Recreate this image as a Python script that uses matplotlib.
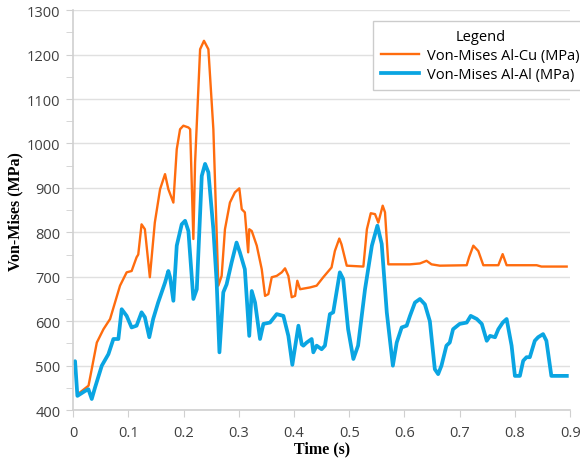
import numpy as np
import matplotlib
matplotlib.use('Agg')
import matplotlib.pyplot as plt
from matplotlib.ticker import MultipleLocator

# Von-Mises Al-Cu (MPa)
t_cu = [0.0127, 0.028, 0.043, 0.055, 0.067, 0.085, 0.097, 0.106, 0.115, 0.118,
        0.124, 0.130, 0.139, 0.148, 0.1575, 0.1665, 0.1725, 0.1816, 0.1877, 0.1937,
        0.1997, 0.2088, 0.212, 0.2178, 0.2209, 0.230, 0.237, 0.245, 0.254, 0.263,
        0.269, 0.275, 0.284, 0.293, 0.301, 0.3054, 0.311, 0.317, 0.319, 0.3235,
        0.3326, 0.3416, 0.3476, 0.3536, 0.3597, 0.3687, 0.3778, 0.3838, 0.3898, 0.3959,
        0.402, 0.406, 0.411, 0.429, 0.441, 0.453, 0.468, 0.474, 0.482, 0.486,
        0.4955, 0.5256, 0.532, 0.539, 0.5467, 0.5527, 0.5606, 0.5648, 0.5708, 0.610,
        0.628, 0.640, 0.649, 0.664, 0.7127, 0.717, 0.7247, 0.7337, 0.7428, 0.770,
        0.7778, 0.785, 0.8394, 0.848, 0.8937]
v_cu = [440, 455, 552, 582, 605, 680, 710, 713, 744, 750,
        818, 807, 699, 822, 897, 931, 897, 867, 987, 1032,
        1040, 1036, 1032, 785, 957, 1212, 1231, 1212, 1032, 680,
        702, 807, 867, 890, 899, 852, 845, 755, 807, 803,
        770, 717, 657, 661, 699, 702, 710, 719, 702, 654,
        657, 691, 672, 676, 680, 699, 721, 758, 786, 773,
        725, 723, 807, 843, 841, 822, 860, 845, 728, 728,
        730, 736, 728, 725, 726, 744, 770, 758, 726, 726,
        751, 726, 726, 723, 723]

# Von-Mises Al-Al (MPa)
t_al = [0.0006, 0.0036, 0.0078, 0.0217, 0.0277, 0.0338, 0.0398, 0.052, 0.064, 0.073,
        0.082, 0.088, 0.097, 0.106, 0.115, 0.124, 0.130, 0.138, 0.145, 0.154,
        0.1665, 0.1725, 0.1756, 0.1816, 0.1877, 0.1967, 0.2028, 0.2088, 0.2178, 0.224,
        0.233, 0.239, 0.245, 0.254, 0.260, 0.265, 0.272, 0.278, 0.287, 0.296,
        0.302, 0.311, 0.319, 0.3235, 0.3295, 0.3385, 0.3446, 0.3566, 0.3687, 0.3808,
        0.3898, 0.397, 0.408, 0.414, 0.417, 0.423, 0.432, 0.435, 0.441, 0.450,
        0.456, 0.465, 0.471, 0.483, 0.489, 0.498, 0.5075, 0.516, 0.5286, 0.541,
        0.551, 0.5588, 0.568, 0.579, 0.586, 0.595, 0.604, 0.610, 0.619, 0.628,
        0.637, 0.646, 0.655, 0.661, 0.667, 0.676, 0.682, 0.688, 0.700, 0.7127,
        0.720, 0.731, 0.740, 0.749, 0.755, 0.764, 0.770, 0.778, 0.785, 0.794,
        0.800, 0.809, 0.815, 0.821, 0.827, 0.836, 0.842, 0.851, 0.857, 0.866,
        0.894]
v_al = [507, 510, 432, 443, 447, 425, 451, 500, 526, 560,
        560, 627, 612, 586, 590, 620, 609, 564, 605, 642,
        687, 713, 699, 646, 770, 818, 826, 803, 650, 672,
        927, 954, 935, 807, 687, 530, 665, 683, 732, 777,
        755, 717, 567, 668, 642, 560, 594, 597, 616, 612,
        567, 502, 590, 548, 545, 552, 560, 530, 545, 537,
        545, 616, 620, 710, 695, 582, 515, 545, 672, 770,
        815, 774, 620, 500, 552, 586, 590, 612, 642, 650,
        638, 600, 492, 481, 500, 545, 552, 582, 594, 597,
        612, 605, 594, 556, 567, 564, 582, 597, 605, 545,
        477, 477, 511, 519, 519, 556, 564, 571, 556, 477,
        477]

x_ticklabels = ['0', '0.1', '0.2', '0.3', '0.4', '0.5', '0.6', '0.7', '0.8', '0.9']

fig = plt.figure(figsize=(5.8, 4.64), dpi=100)
ax = fig.add_axes([0.126, 0.114, 0.857, 0.862])

ax.plot(t_cu, v_cu, color='#ff6c0e', lw=1.7, label='Von-Mises Al-Cu (MPa)', solid_joinstyle='round')
ax.plot(t_al, v_al, color='#0aa5e2', lw=2.7, label='Von-Mises Al-Al (MPa)', solid_joinstyle='round')

ax.set_xlim(0, 0.9)
ax.set_ylim(400, 1300)
ax.yaxis.set_major_locator(MultipleLocator(100))
ax.yaxis.set_minor_locator(MultipleLocator(50))
ax.set_xticks(np.arange(0, 0.91, 0.1))
ax.set_xticklabels(x_ticklabels)
ax.grid(axis='y', which='major', color='#e0e0e0', lw=1)
ax.set_axisbelow(True)
for s in ['top', 'right']:
    ax.spines[s].set_visible(False)
for s in ['left', 'bottom']:
    ax.spines[s].set_color('#d0d0d0')
    ax.spines[s].set_linewidth(1.2)
ax.tick_params(axis='both', which='both', color='#d0d0d0', labelcolor='#404040', labelsize=10.5)
ax.tick_params(axis='x', direction='out', length=5, pad=6)
ax.tick_params(axis='y', which='both', direction='out', length=5, pad=4)
for lab in ax.get_xticklabels() + ax.get_yticklabels():
    lab.set_family('Open Sans')

ax.set_xlabel('Time (s)', family='Liberation Serif', fontweight='bold', fontsize=11.5, labelpad=0)
ax.set_ylabel('Von-Mises (MPa)', family='Liberation Serif', fontweight='bold', fontsize=11.5, labelpad=3)

leg = ax.legend(loc='upper left', bbox_to_anchor=(373 / 580, 1 - 22 / 464), bbox_transform=fig.transFigure,
                title='Legend', frameon=True, fancybox=False, edgecolor='#cccccc', framealpha=1,
                prop={'family': 'Open Sans', 'size': 10.5}, title_fontproperties={'family': 'Open Sans', 'size': 10.5},
                handlelength=2.6, handletextpad=0.55, borderpad=0.55, labelspacing=0.28, borderaxespad=0)
leg.get_frame().set_linewidth(1.0)

fig.savefig('out.png', dpi=100)
